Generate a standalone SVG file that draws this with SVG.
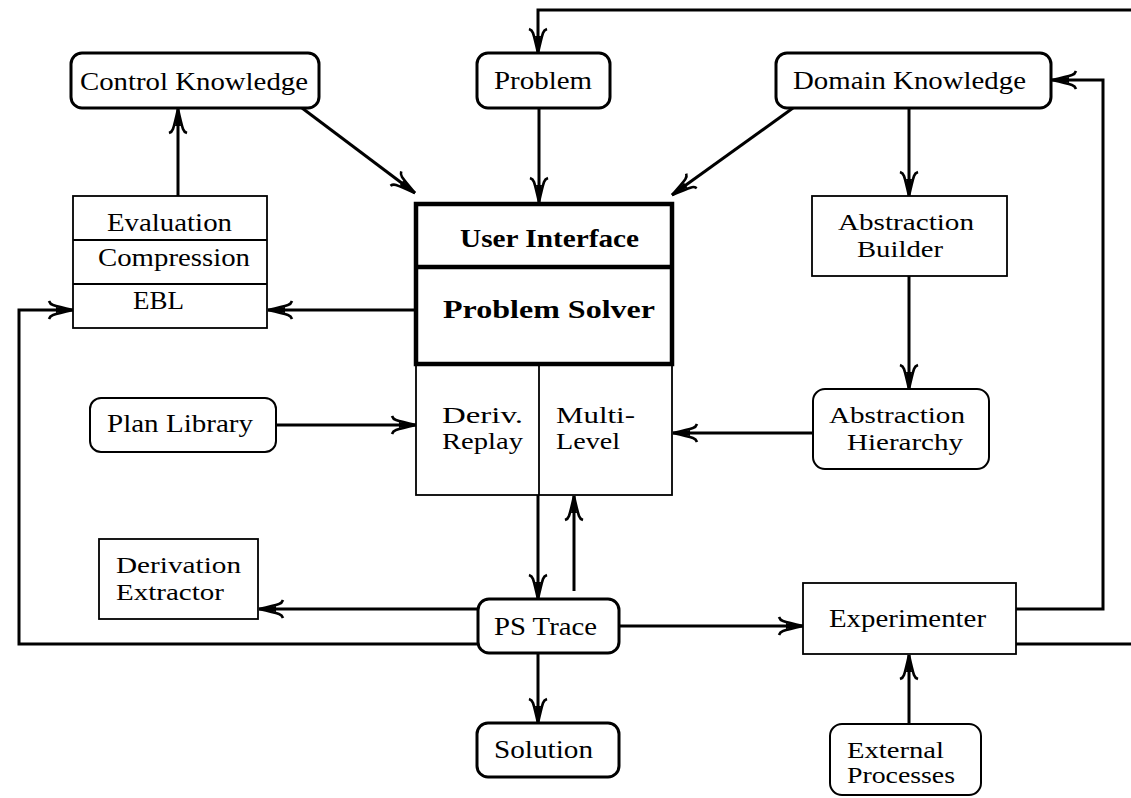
<svg xmlns="http://www.w3.org/2000/svg" width="1131" height="798" viewBox="0 0 1131 798">
<style>
.bg{fill:#fff}
.rb{fill:#fff;stroke:#000;stroke-width:3}
.rt{fill:#fff;stroke:#000;stroke-width:2}
.bx{fill:#fff;stroke:#000;stroke-width:1.8}
.big{fill:#fff;stroke:#000;stroke-width:4.5}
.dv{stroke:#000;stroke-width:1.8;fill:none}
.c{fill:none;stroke:#000;stroke-width:3;stroke-linejoin:miter}
.c.ar{marker-end:url(#ah)}
text{font-family:"Liberation Serif","Times New Roman",serif;font-size:26px;fill:#000}
text.m{font-size:23px}
.b{font-weight:bold}
</style>
<defs>
<marker id="ah" markerWidth="30" markerHeight="22" viewBox="-28 -11 30 22" refX="0" refY="0" orient="auto" markerUnits="userSpaceOnUse" overflow="visible">
<path d="M0,0 L-17,-3 L-17,3 Z" fill="#000"/>
<path d="M0,0 C-9,-2 -17,-4 -20,-5 Q-23,-6 -24,-9 M0,0 C-9,2 -17,4 -20,5 Q-23,6 -24,9" fill="none" stroke="#000" stroke-width="2.6"/>
</marker>
</defs>
<rect class="bg" x="0" y="0" width="1131" height="798"/>

<g id="connectors">
<path class="c ar" d="M178,196 V109"/>
<path class="c ar" d="M302,108 L415,193"/>
<path class="c ar" d="M539,108 V202"/>
<path class="c ar" d="M793,108 L672,195"/>
<path class="c ar" d="M909,108 V196"/>
<path class="c ar" d="M909,276 V389"/>
<path class="c ar" d="M813,433 H673"/>
<path class="c ar" d="M276,425 H416"/>
<path class="c ar" d="M415,310 H268"/>
<path class="c ar" d="M538,495 V599"/>
<path class="c ar" d="M574,591 V496"/>
<path class="c ar" d="M478,609 H259"/>
<path class="c ar" d="M478,644 H19 V310 H73"/>
<path class="c ar" d="M619,626 H803"/>
<path class="c ar" d="M538,653 V723"/>
<path class="c ar" d="M909,724 V655"/>
<path class="c ar" d="M1016,609 H1103 V80 H1052"/>
<path class="c ar" d="M1016,644 H1145 V10 H538 V53"/>
</g>

<g id="control-knowledge">
<rect class="rb" x="71" y="53" width="248" height="55" rx="11"/>
<text x="80" y="90" textLength="228" lengthAdjust="spacingAndGlyphs">Control Knowledge</text>
</g>
<g id="problem">
<rect class="rb" x="477" y="53" width="133" height="55" rx="11"/>
<text x="494" y="89" textLength="98" lengthAdjust="spacingAndGlyphs">Problem</text>
</g>
<g id="domain-knowledge">
<rect class="rb" x="776" y="53" width="275" height="55" rx="11"/>
<text x="793" y="89" textLength="233" lengthAdjust="spacingAndGlyphs">Domain Knowledge</text>
</g>
<g id="learning-stack">
<rect class="bx" x="73" y="196" width="194" height="132"/>
<line class="dv" x1="73" y1="240" x2="267" y2="240"/>
<line class="dv" x1="73" y1="284" x2="267" y2="284"/>
<text x="107" y="231" textLength="125" lengthAdjust="spacingAndGlyphs">Evaluation</text>
<text x="98" y="266" textLength="152" lengthAdjust="spacingAndGlyphs">Compression</text>
<text x="133" y="309" textLength="51" lengthAdjust="spacingAndGlyphs">EBL</text>
</g>
<g id="problem-solver">
<rect class="bx" x="416" y="364" width="256" height="131"/>
<line class="dv" x1="539" y1="364" x2="539" y2="495"/>
<rect class="big" x="416" y="204" width="256" height="160"/>
<line x1="416" y1="267" x2="672" y2="267" stroke="#000" stroke-width="4.5"/>
<text class="b" x="460" y="247" textLength="179" lengthAdjust="spacingAndGlyphs">User  Interface</text>
<text class="b" x="443" y="318" font-size="31" textLength="212" lengthAdjust="spacingAndGlyphs">Problem Solver</text>
<text class="m" x="442" y="423" textLength="81" lengthAdjust="spacingAndGlyphs">Deriv.</text>
<text class="m" x="442" y="449" textLength="81" lengthAdjust="spacingAndGlyphs">Replay</text>
<text class="m" x="556" y="423" textLength="79" lengthAdjust="spacingAndGlyphs">Multi-</text>
<text class="m" x="556" y="449" textLength="64" lengthAdjust="spacingAndGlyphs">Level</text>
</g>
<g id="abstraction-builder">
<rect class="bx" x="812" y="196" width="195" height="80"/>
<text class="m" x="838" y="230" textLength="136" lengthAdjust="spacingAndGlyphs">Abstraction</text>
<text class="m" x="857" y="257" textLength="86" lengthAdjust="spacingAndGlyphs">Builder</text>
</g>
<g id="plan-library">
<rect class="rt" x="90" y="398" width="186" height="54" rx="11"/>
<text x="107" y="432" textLength="146" lengthAdjust="spacingAndGlyphs">Plan Library</text>
</g>
<g id="abstraction-hierarchy">
<rect class="rt" x="813" y="389" width="176" height="80" rx="12"/>
<text class="m" x="829" y="423" textLength="136" lengthAdjust="spacingAndGlyphs">Abstraction</text>
<text class="m" x="847" y="450" textLength="116" lengthAdjust="spacingAndGlyphs">Hierarchy</text>
</g>
<g id="derivation-extractor">
<rect class="bx" x="99" y="539" width="159" height="80"/>
<text class="m" x="116" y="573" textLength="125" lengthAdjust="spacingAndGlyphs">Derivation</text>
<text class="m" x="116" y="600" textLength="108" lengthAdjust="spacingAndGlyphs">Extractor</text>
</g>
<g id="ps-trace">
<rect class="rb" x="478" y="599" width="141" height="54" rx="11"/>
<text x="494" y="635" textLength="103" lengthAdjust="spacingAndGlyphs">PS Trace</text>
</g>
<g id="experimenter">
<rect class="bx" x="803" y="583" width="213" height="71"/>
<text x="829" y="627" textLength="157" lengthAdjust="spacingAndGlyphs">Experimenter</text>
</g>
<g id="solution">
<rect class="rb" x="477" y="723" width="142" height="54" rx="11"/>
<text x="494" y="758" textLength="99" lengthAdjust="spacingAndGlyphs">Solution</text>
</g>
<g id="external-processes">
<rect class="rt" x="830" y="724" width="151" height="71" rx="12"/>
<text class="m" x="847" y="758" textLength="97" lengthAdjust="spacingAndGlyphs">External</text>
<text class="m" x="847" y="783" textLength="108" lengthAdjust="spacingAndGlyphs">Processes</text>
</g>
</svg>
